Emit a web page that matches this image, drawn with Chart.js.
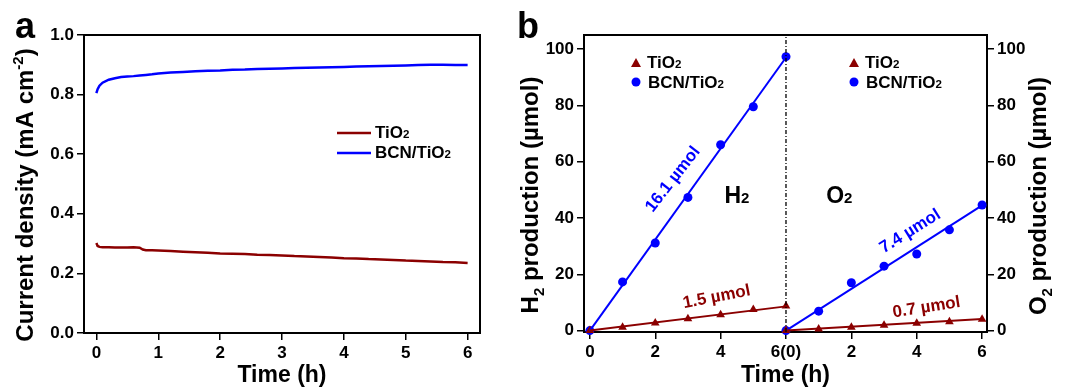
<!DOCTYPE html>
<html>
<head>
<meta charset="utf-8">
<script src="https://cdn.jsdelivr.net/npm/chart.js@4.4.0/dist/chart.umd.min.js"></script>
<style>
    body { margin: 0; background: #fff; }
    #wrapA { position: absolute; left: 0; top: 0; width: 500px; height: 389px; }
    #wrapB { position: absolute; left: 500px; top: 0; width: 567px; height: 389px; }
</style>
</head>
<body>
<div id="wrapA"><canvas id="chartA"></canvas></div>
<div id="wrapB"><canvas id="chartB"></canvas></div>
<script>
// ---- Panel a: current density vs time ----
const timeA = [0, 0.02, 0.05, 0.1, 0.2, 0.3, 0.4, 0.5, 0.6, 0.7, 0.75, 0.8, 0.9, 1.0,
    1.2, 1.4, 1.6, 1.8, 2.0, 2.2, 2.4, 2.6, 2.8, 3.0, 3.2, 3.4, 3.6, 3.8, 4.0,
    4.2, 4.4, 4.6, 4.8, 5.0, 5.2, 5.4, 5.6, 5.8, 6.0];
const tio2Current = [0.302, 0.292, 0.289, 0.288, 0.288, 0.287, 0.287, 0.287, 0.288, 0.286, 0.280, 0.278, 0.278, 0.277,
    0.275, 0.273, 0.271, 0.269, 0.267, 0.266, 0.265, 0.263, 0.262, 0.260, 0.258, 0.257, 0.255, 0.253, 0.251,
    0.250, 0.248, 0.247, 0.245, 0.243, 0.242, 0.240, 0.238, 0.237, 0.235];
const bcnCurrent = [0.805, 0.818, 0.830, 0.840, 0.850, 0.855, 0.859, 0.861, 0.862, 0.864, 0.865, 0.866, 0.868, 0.871,
    0.874, 0.876, 0.878, 0.880, 0.881, 0.883, 0.884, 0.886, 0.887, 0.888, 0.889, 0.890, 0.891, 0.892, 0.893,
    0.894, 0.895, 0.896, 0.897, 0.898, 0.899, 0.900, 0.900, 0.899, 0.899];
const xTicksA = [0, 1, 2, 3, 4, 5, 6];
const yTicksA = [0, 0.2, 0.4, 0.6, 0.8, 1.0];

// ---- Panel b: H2 / O2 production ----
const hoursB = [0, 1, 2, 3, 4, 5, 6];
const h2Tio2 = [0, 1.2, 2.7, 4.2, 5.6, 7.5, 8.7];
const h2Bcn = [0, 17.3, 31.1, 47.3, 66.0, 79.5, 97.3];
const o2Tio2 = [0, 0.6, 1.2, 1.9, 2.6, 3.1, 4.0];
const o2Bcn = [0, 6.9, 17.0, 22.9, 27.2, 35.8, 44.6];
// fitted line end values at 6 h
const h2Tio2Fit = 8.6;
const h2BcnFit = 97.0;
const o2Tio2Fit = 4.1;
const o2BcnFit = 44.5;
const o2Offset = 6; // O2 run drawn after the H2 run
const xTicksB = [0, 2, 4, 6, 8, 10, 12];
const xTickLabelsB = ['0', '2', '4', '6(0)', '2', '4', '6'];
const yTicksB = [0, 20, 40, 60, 80, 100];

const FONT = "'Liberation Sans', Arial, sans-serif";
const blue = '#0000ff';
const darkRed = '#8b0000';
const TICK_SIZE = 17;
const TITLE_SIZE = 24;

Chart.defaults.font.family = FONT;
Chart.defaults.font.weight = 'bold';
Chart.defaults.color = '#000';

// draw a run of text pieces (for sub/superscripts), optionally rotated
function richText(ctx, parts, x, y, angle, align) {
    ctx.save();
    ctx.translate(x, y);
    ctx.rotate(angle * Math.PI / 180);
    let total = 0;
    parts.forEach(p => {
        ctx.font = 'bold ' + p.size + 'px ' + FONT;
        p.w = ctx.measureText(p.text).width;
        total += p.w;
    });
    let cx = align === 'left' ? 0 : -total / 2;
    ctx.textAlign = 'left';
    ctx.textBaseline = 'alphabetic';
    parts.forEach(p => {
        ctx.font = 'bold ' + p.size + 'px ' + FONT;
        ctx.fillStyle = p.color || '#000';
        ctx.fillText(p.text, cx, p.dy || 0);
        cx += p.w;
    });
    ctx.restore();
}

function tio2Parts(size, color) {
    return [{ text: 'TiO', size: size, color: color }, { text: '2', size: size * 0.68, color: color }];
}

function axisStyle() {
    return {
        grid: { display: true, drawOnChartArea: false, drawTicks: true, tickLength: 7, color: '#000', lineWidth: 1.5 },
        border: { display: true, color: '#000', width: 2 }
    };
}

// box around the plot area
const framePlugin = {
    id: 'frame',
    beforeDatasetsDraw(chart) {
        const a = chart.chartArea;
        const ctx = chart.ctx;
        ctx.save();
        ctx.strokeStyle = '#000';
        ctx.lineWidth = 2;
        ctx.strokeRect(a.left, a.top, a.right - a.left, a.bottom - a.top);
        ctx.restore();
    }
};

// ---- Chart a ----
const annotateA = {
    id: 'annotateA',
    afterDraw(chart) {
        const ctx = chart.ctx;
        richText(ctx, [{ text: 'a', size: 36 }], 15, 38, 0, 'left');
        richText(ctx, [
            { text: 'Current density (mA cm', size: TITLE_SIZE },
            { text: '-2', size: 15, dy: -10 },
            { text: ')', size: TITLE_SIZE }
        ], 33, 195, -90, 'center');
        // legend
        const rows = [
            { color: darkRed, parts: tio2Parts(17) },
            { color: blue, parts: [{ text: 'BCN/', size: 17 }].concat(tio2Parts(17)) }
        ];
        rows.forEach((r, i) => {
            const y = 133 + i * 20;
            ctx.save();
            ctx.strokeStyle = r.color;
            ctx.lineWidth = 2.5;
            ctx.beginPath();
            ctx.moveTo(337, y);
            ctx.lineTo(371, y);
            ctx.stroke();
            ctx.restore();
            richText(ctx, r.parts, 375, y + 5, 0, 'left');
        });
    }
};

new Chart(document.getElementById('chartA'), {
    type: 'line',
    data: {
        datasets: [{
            label: 'TiO2',
            data: timeA.map((t, i) => ({ x: t, y: tio2Current[i] })),
            borderColor: darkRed,
            borderWidth: 2.5,
            pointRadius: 0,
            tension: 0
        }, {
            label: 'BCN/TiO2',
            data: timeA.map((t, i) => ({ x: t, y: bcnCurrent[i] })),
            borderColor: blue,
            borderWidth: 2.5,
            pointRadius: 0,
            tension: 0
        }]
    },
    options: {
        responsive: true,
        maintainAspectRatio: false,
        animation: false,
        layout: { padding: { top: 35, right: 20, left: 0, bottom: 0 } },
        plugins: { legend: { display: false }, tooltip: { enabled: false } },
        scales: {
            x: Object.assign({
                type: 'linear',
                min: -0.2,
                max: 6.2,
                afterBuildTicks: s => { s.ticks = xTicksA.map(v => ({ value: v })); },
                afterFit: s => { s.height = 56; },
                ticks: { font: { size: TICK_SIZE, weight: 'bold' }, padding: 3, color: '#000' },
                title: { display: true, text: 'Time (h)', font: { size: 23, weight: 'bold' }, color: '#000', padding: { top: 0, bottom: 0 } }
            }, axisStyle()),
            y: Object.assign({
                type: 'linear',
                min: 0,
                max: 1.0,
                afterBuildTicks: s => { s.ticks = yTicksA.map(v => ({ value: v })); },
                afterFit: s => { s.width = 84; },
                ticks: { font: { size: TICK_SIZE, weight: 'bold' }, padding: 3, color: '#000', callback: v => v.toFixed(1) }
            }, axisStyle())
        }
    },
    plugins: [framePlugin, annotateA]
});

// ---- Chart b ----
const annotateB = {
    id: 'annotateB',
    afterDraw(chart) {
        const ctx = chart.ctx;
        const xs = chart.scales.x, ys = chart.scales.y;
        const px = v => xs.getPixelForValue(v);
        const py = v => ys.getPixelForValue(v);
        richText(ctx, [{ text: 'b', size: 36 }], 17, 38, 0, 'left');
        richText(ctx, [
            { text: 'H', size: TITLE_SIZE },
            { text: '2', size: 15, dy: 6 },
            { text: ' production (\u00b5mol)', size: TITLE_SIZE }
        ], 38, 195, -90, 'center');
        richText(ctx, [
            { text: 'O', size: TITLE_SIZE },
            { text: '2', size: 15, dy: 6 },
            { text: ' production (\u00b5mol)', size: TITLE_SIZE }
        ], 546, 196, -90, 'center');

        // legends (one per half)
        [136, 354].forEach(lx => {
            ctx.save();
            ctx.fillStyle = darkRed;
            ctx.beginPath();
            ctx.moveTo(lx, 58);
            ctx.lineTo(lx + 5, 67);
            ctx.lineTo(lx - 5, 67);
            ctx.closePath();
            ctx.fill();
            ctx.fillStyle = blue;
            ctx.beginPath();
            ctx.arc(lx, 82, 4.5, 0, Math.PI * 2);
            ctx.fill();
            ctx.restore();
            richText(ctx, tio2Parts(17), lx + 11, 68, 0, 'left');
            richText(ctx, [{ text: 'BCN/', size: 17 }].concat(tio2Parts(17)), lx + 12, 88, 0, 'left');
        });

        // gas labels
        richText(ctx, [{ text: 'H', size: 23 }, { text: '2', size: 15 }], px(4.5), py(48) + 8, 0, 'center');
        richText(ctx, [{ text: 'O', size: 23 }, { text: '2', size: 15 }], px(7.63), py(48) + 8, 0, 'center');

        // rate labels
        const rates = [
            { text: '16.1 \u00b5mol', x: 2.54, y: 53.7, angle: -52, color: blue },
            { text: '1.5 \u00b5mol', x: 3.88, y: 11.9, angle: -11, color: darkRed },
            { text: '7.4 \u00b5mol', x: 9.8, y: 35.2, angle: -32, color: blue },
            { text: '0.7 \u00b5mol', x: 10.3, y: 8.2, angle: -9, color: darkRed }
        ];
        rates.forEach(r => {
            ctx.save();
            ctx.translate(px(r.x), py(r.y));
            ctx.rotate(r.angle * Math.PI / 180);
            ctx.font = 'bold 17px ' + FONT;
            ctx.fillStyle = r.color;
            ctx.textAlign = 'center';
            ctx.textBaseline = 'middle';
            ctx.fillText(r.text, 0, 0);
            ctx.restore();
        });
    }
};

const pts = (xs, ys, off) => xs.map((h, i) => ({ x: h + off, y: ys[i] }));
const fit = (end, off) => [{ x: off, y: 0 }, { x: 6 + off, y: end }];

new Chart(document.getElementById('chartB'), {
    type: 'line',
    data: {
        datasets: [
            { label: 'divider', data: [{ x: 6, y: -0.5 }, { x: 6, y: 105 }], borderColor: '#000', borderWidth: 1.3, borderDash: [4, 2, 1, 2], pointRadius: 0 },
            { label: 'H2 TiO2 fit', data: fit(h2Tio2Fit, 0), borderColor: darkRed, borderWidth: 2, pointRadius: 0 },
            { label: 'H2 BCN fit', data: fit(h2BcnFit, 0), borderColor: blue, borderWidth: 2, pointRadius: 0 },
            { label: 'O2 TiO2 fit', data: fit(o2Tio2Fit, o2Offset), borderColor: darkRed, borderWidth: 2, pointRadius: 0 },
            { label: 'O2 BCN fit', data: fit(o2BcnFit, o2Offset), borderColor: blue, borderWidth: 2, pointRadius: 0 },
            { label: 'H2 TiO2', data: pts(hoursB, h2Tio2, 0), showLine: false, pointStyle: 'triangle', pointRadius: 5, backgroundColor: darkRed, borderColor: darkRed, borderWidth: 0, clip: false },
            { label: 'H2 BCN/TiO2', data: pts(hoursB, h2Bcn, 0), showLine: false, pointStyle: 'circle', pointRadius: 4.5, backgroundColor: blue, borderColor: blue, borderWidth: 0, clip: false },
            { label: 'O2 TiO2', data: pts(hoursB, o2Tio2, o2Offset), showLine: false, pointStyle: 'triangle', pointRadius: 5, backgroundColor: darkRed, borderColor: darkRed, borderWidth: 0, clip: false },
            { label: 'O2 BCN/TiO2', data: pts(hoursB, o2Bcn, o2Offset), showLine: false, pointStyle: 'circle', pointRadius: 4.5, backgroundColor: blue, borderColor: blue, borderWidth: 0, clip: false }
        ]
    },
    options: {
        responsive: true,
        maintainAspectRatio: false,
        animation: false,
        layout: { padding: { top: 35, right: 0, left: 0, bottom: 0 } },
        plugins: { legend: { display: false }, tooltip: { enabled: false } },
        scales: {
            x: Object.assign({
                type: 'linear',
                min: -0.18,
                max: 12.15,
                afterBuildTicks: s => { s.ticks = xTicksB.map(v => ({ value: v })); },
                afterFit: s => { s.height = 57; },
                ticks: { font: { size: TICK_SIZE, weight: 'bold' }, padding: 3, color: '#000', callback: v => xTickLabelsB[xTicksB.indexOf(v)] },
                title: { display: true, text: 'Time (h)', font: { size: 23, weight: 'bold' }, color: '#000', padding: { top: 0, bottom: 0 } }
            }, axisStyle()),
            y: Object.assign({
                type: 'linear',
                position: 'left',
                min: -0.5,
                max: 105,
                afterBuildTicks: s => { s.ticks = yTicksB.map(v => ({ value: v })); },
                afterFit: s => { s.width = 84; },
                ticks: { font: { size: TICK_SIZE, weight: 'bold' }, padding: 3, color: '#000' }
            }, axisStyle()),
            y2: Object.assign({
                type: 'linear',
                position: 'right',
                min: -0.5,
                max: 105,
                afterBuildTicks: s => { s.ticks = yTicksB.map(v => ({ value: v })); },
                afterFit: s => { s.width = 80; },
                ticks: { font: { size: TICK_SIZE, weight: 'bold' }, padding: 3, color: '#000' }
            }, axisStyle())
        }
    },
    plugins: [framePlugin, annotateB]
});
</script>
</body>
</html>
